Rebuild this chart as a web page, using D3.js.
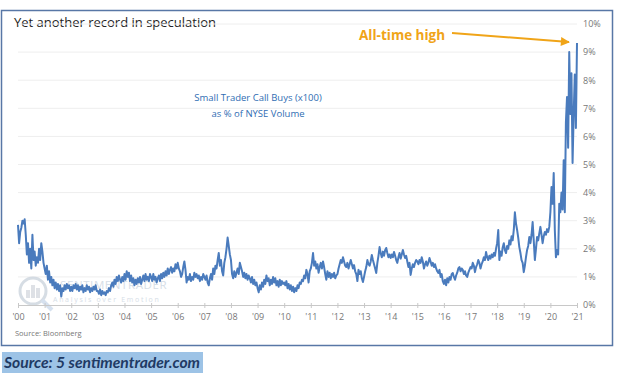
<!DOCTYPE html>
<html>
<head>
<meta charset="utf-8">
<script src="https://cdn.jsdelivr.net/npm/d3@7"></script>
<style>
  body { margin: 0; background: #fff; }
  svg { display: block; font-family: "Open Sans", sans-serif; }
</style>
</head>
<body>
<div id="chart"></div>
<script>
// --- Data (semi-monthly readings, % of NYSE volume) ---
const startYear = 2000;
const pointsPerYear = 24;
const callBuysPct = [
  // 2000
  2.85, 2.2, 2.6, 2.75, 3.0, 2.9, 3.05, 2.5, 1.8, 2.2, 1.5, 2.0, 1.3, 2.5, 1.6, 1.9, 1.4, 1.7, 1.5, 2.0, 1.6, 2.2, 1.9, 1.5,
  // 2001
  1.3, 1.1, 1.4, 0.9, 1.2, 0.8, 1.0, 0.7, 0.9, 0.6, 0.8, 0.55, 0.75, 0.5, 0.7, 0.3, 0.6, 0.5, 0.7, 0.55, 0.75, 0.6, 0.7, 0.5,
  // 2002
  0.65, 0.5, 0.7, 0.6, 0.75, 0.55, 0.7, 0.5, 0.65, 0.55, 0.7, 0.45, 0.6, 0.5, 0.7, 0.55, 0.65, 0.45, 0.6, 0.5, 0.65, 0.55, 0.7, 0.5,
  // 2003
  0.5, 0.4, 0.55, 0.35, 0.5, 0.4, 0.45, 0.35, 0.5, 0.45, 0.6, 0.5, 0.7, 0.8, 0.65, 0.9, 0.75, 1.0, 0.85, 1.05, 0.9, 0.8, 1.0, 0.85,
  // 2004
  1.1, 0.9, 1.2, 1.0, 1.15, 0.85, 1.05, 0.8, 0.95, 0.7, 0.9, 0.75, 0.95, 0.8, 1.0, 0.75, 0.9, 1.05, 0.85, 1.1, 0.9, 1.0, 0.85, 1.1,
  // 2005
  1.0, 0.85, 1.1, 0.9, 1.0, 0.8, 0.95, 1.05, 0.85, 1.1, 0.95, 1.15, 1.0, 1.2, 1.05, 1.3, 1.1, 1.25, 1.35, 1.15, 1.3, 1.2, 1.45, 1.3,
  // 2006
  1.5, 1.3, 1.2, 1.0, 1.1, 1.35, 1.55, 1.25, 0.8, 1.0, 0.9, 1.1, 0.85, 1.0, 0.9, 1.15, 1.0, 1.1, 0.95, 1.05, 0.85, 1.0, 0.9, 1.1,
  // 2007
  1.0, 0.9, 1.05, 0.8, 0.7, 0.95, 1.1, 0.9, 1.3, 1.1, 1.4, 1.3, 1.6, 1.85, 1.4, 1.6, 1.2, 1.05, 1.5, 1.7, 2.0, 2.4, 2.1, 1.8,
  // 2008
  1.6, 1.1, 0.95, 1.2, 1.0, 1.15, 1.3, 1.1, 1.5, 1.35, 1.2, 1.0, 1.15, 0.95, 1.1, 0.9, 1.05, 0.95, 0.8, 1.0, 0.75, 0.9, 0.7, 0.8,
  // 2009
  0.6, 0.45, 0.7, 0.55, 0.8, 0.65, 0.9, 0.75, 1.05, 0.85, 0.95, 0.7, 0.9, 0.75, 1.0, 0.8, 0.95, 0.7, 0.85, 0.65, 0.9, 0.7, 0.85, 0.75,
  // 2010
  0.8, 0.7, 0.85, 0.6, 0.75, 0.55, 0.7, 0.5, 0.65, 0.45, 0.6, 0.5, 0.7, 0.6, 0.8, 0.75, 0.9, 0.85, 1.05, 0.95, 1.25, 1.1, 0.8, 1.2,
  // 2011
  1.3, 1.5, 1.85, 1.4, 1.55, 1.3, 1.45, 1.15, 1.35, 1.5, 1.3, 1.55, 1.35, 1.1, 0.9, 1.2, 1.0, 1.15, 0.95, 1.1, 1.0, 1.15, 0.95, 1.05,
  // 2012
  1.1, 1.3, 1.45, 1.6, 1.5, 1.7, 1.55, 1.4, 1.35, 1.5, 1.3, 1.45, 1.6, 1.45, 1.3, 1.42, 1.2, 1.1, 0.85, 1.25, 1.1, 1.2, 0.95, 0.82,
  // 2013
  1.0, 1.2, 1.35, 1.6, 1.45, 1.4, 1.55, 1.78, 1.6, 1.45, 1.3, 1.14, 1.5, 1.75, 2.06, 1.85, 1.7, 1.9, 1.75, 1.95, 2.03, 1.85, 1.7, 1.8,
  // 2014
  1.67, 1.8, 1.7, 1.89, 1.75, 1.6, 1.5, 1.7, 1.85, 1.65, 1.8, 1.96, 1.8, 1.67, 1.75, 1.55, 1.35, 1.5, 1.07, 1.3, 1.45, 1.35, 1.5, 1.6,
  // 2015
  1.55, 1.45, 1.6, 1.5, 1.7, 1.55, 1.3, 1.45, 1.55, 1.4, 1.5, 1.67, 1.55, 1.4, 1.5, 1.35, 1.45, 1.3, 1.2, 1.14, 1.25, 1.0, 1.1, 0.85,
  // 2016
  0.75, 0.9, 0.7, 0.95, 0.8, 1.0, 0.9, 1.1, 1.14, 1.0, 0.9, 1.05, 1.15, 1.3, 1.35, 1.2, 1.3, 1.25, 1.1, 1.2, 1.05, 1.0, 1.15, 1.25,
  // 2017
  1.35, 1.3, 1.5, 1.4, 1.17, 1.35, 1.45, 1.6, 1.5, 1.3, 1.45, 1.55, 1.7, 1.6, 1.89, 1.7, 1.6, 1.75, 1.65, 1.8, 1.7, 1.85, 1.75, 2.0,
  // 2018
  2.2, 2.67, 1.6, 1.9, 1.75, 2.05, 2.2, 1.95, 1.85, 2.1, 2.0, 2.3, 2.15, 2.45, 2.3, 2.67, 3.3, 2.9, 2.67, 2.4, 2.06, 1.85, 1.6, 1.5,
  // 2019
  1.17, 1.4, 1.7, 1.96, 2.1, 2.42, 2.2, 2.5, 2.95, 2.3, 1.6, 2.0, 2.42, 2.3, 2.55, 2.78, 2.5, 2.2, 2.45, 2.6, 2.5, 2.7, 2.6, 2.78,
  // 2020
  3.3, 4.2, 3.6, 4.7, 2.67, 1.7, 1.96, 1.8, 3.6, 3.3, 4.0, 3.4, 5.15, 3.3, 6.5, 7.4, 5.6, 9.0, 6.8, 8.25, 5.05, 6.8, 8.2, 6.3,
  // 2021
  9.32
];

const xTickYears = d3.range(2000, 2022);
const yTickPct = d3.range(0, 11);

const titleText = "Yet another record in speculation";
const seriesLabel = ["Small Trader Call Buys (x100)", "as % of NYSE Volume"];
const calloutText = "All-time high";
const chartSource = "Source: Bloomberg";
const footerSource = "Source: 5 sentimentrader.com";

// --- Layout ---
const WIDTH = 621, HEIGHT = 375;
const plot = { left: 18, right: 577, top: 24, bottom: 305 };
const LINE_COLOR = "#4a7bbd";
const ORANGE = "#f0a418";

const svg = d3.select("#chart").append("svg")
  .attr("width", WIDTH)
  .attr("height", HEIGHT);

const x = d3.scaleLinear().domain([2000, 2021]).range([plot.left, plot.right]);
const y = d3.scaleLinear().domain([0, 10]).range([plot.bottom, plot.top]);

// frame
svg.append("rect")
  .attr("x", 1.5).attr("y", 10.5)
  .attr("width", 611).attr("height", 335)
  .attr("fill", "#fff")
  .attr("stroke", "#5877a6")
  .attr("stroke-width", 1.5);

// title
svg.append("text")
  .attr("x", 14).attr("y", 27)
  .attr("font-size", 13)
  .attr("fill", "#222")
  .text(titleText);

// gridlines
svg.append("g")
  .selectAll("line")
  .data(yTickPct.filter(d => d > 0))
  .join("line")
  .attr("x1", plot.left).attr("x2", plot.right)
  .attr("y1", d => y(d)).attr("y2", d => y(d))
  .attr("stroke", "#eeeeee")
  .attr("stroke-width", 1);

// watermark
const wm = svg.append("g").attr("opacity", 0.75);
wm.append("circle").attr("cx", 33).attr("cy", 291).attr("r", 13)
  .attr("fill", "none").attr("stroke", "#c9d2dc").attr("stroke-width", 3);
wm.append("line").attr("x1", 42).attr("y1", 300).attr("x2", 52).attr("y2", 310)
  .attr("stroke", "#c9d8ea").attr("stroke-width", 4);
[[26, 8], [31, 13], [36, 10]].forEach(([bx, bh]) => {
  wm.append("rect").attr("x", bx).attr("y", 298 - bh).attr("width", 4).attr("height", bh)
    .attr("fill", "#d3d8de");
});
wm.append("text").attr("x", 60).attr("y", 289)
  .attr("font-size", 11.5).attr("fill", "#c9d3de").attr("letter-spacing", 0.6)
  .text("SENTIMENTRADER");
wm.append("text").attr("x", 53).attr("y", 302)
  .attr("font-size", 7).attr("fill", "#c9d3de").attr("letter-spacing", 1.7)
  .text("Analysis over Emotion");

// x axis
const xAxis = d3.axisBottom(x)
  .tickValues(xTickYears)
  .tickFormat(d => "'" + String(d).slice(2))
  .tickSizeInner(3)
  .tickSizeOuter(0)
  .tickPadding(6);

const gx = svg.append("g")
  .attr("transform", `translate(0,${plot.bottom})`)
  .call(xAxis);
gx.select(".domain").attr("stroke", "#c8c8c8");
gx.selectAll(".tick line").attr("stroke", "#c8c8c8").attr("y1", -2);
gx.selectAll(".tick text")
  .attr("fill", "#777")
  .attr("font-size", 9)
  .attr("font-family", "'Open Sans', sans-serif");

// y axis on the right
const yAxis = d3.axisRight(y)
  .tickValues(yTickPct)
  .tickFormat(d => d + "%")
  .tickSize(0)
  .tickPadding(6);

const gy = svg.append("g")
  .attr("transform", `translate(${plot.right},0)`)
  .call(yAxis);
gy.select(".domain").remove();
gy.selectAll(".tick text")
  .attr("fill", "#777")
  .attr("font-size", 9)
  .attr("font-family", "'Open Sans', sans-serif");

// series
const line = d3.line()
  .x((d, i) => x(startYear + i / pointsPerYear))
  .y(d => y(d));

svg.append("path")
  .datum(callBuysPct)
  .attr("fill", "none")
  .attr("stroke", LINE_COLOR)
  .attr("stroke-width", 2)
  .attr("stroke-linejoin", "round")
  .attr("d", line);

// series label
svg.append("g")
  .selectAll("text")
  .data(seriesLabel)
  .join("text")
  .attr("x", 258)
  .attr("y", (d, i) => 101 + i * 16)
  .attr("text-anchor", "middle")
  .attr("font-size", 9.5)
  .attr("fill", "#2f6db3")
  .text(d => d);

// callout
svg.append("defs").append("marker")
  .attr("id", "arrow")
  .attr("viewBox", "0 0 10 10")
  .attr("refX", 9).attr("refY", 5)
  .attr("markerWidth", 5).attr("markerHeight", 4.5)
  .attr("orient", "auto")
  .append("path")
  .attr("d", "M0,0 L10,5 L0,10 Z")
  .attr("fill", ORANGE);

svg.append("text")
  .attr("x", 359).attr("y", 40)
  .attr("font-size", 13.5)
  .attr("font-weight", "bold")
  .attr("fill", ORANGE)
  .text(calloutText);

const lastIndex = callBuysPct.length - 1;
svg.append("line")
  .attr("x1", 452).attr("y1", 33)
  .attr("x2", x(startYear + lastIndex / pointsPerYear) - 8)
  .attr("y2", y(callBuysPct[lastIndex]) - 1)
  .attr("stroke", ORANGE)
  .attr("stroke-width", 2)
  .attr("marker-end", "url(#arrow)");

// chart source
svg.append("text")
  .attr("x", 15).attr("y", 336)
  .attr("font-size", 7.5)
  .attr("fill", "#777")
  .text(chartSource);

// footer source
svg.append("rect")
  .attr("x", 2).attr("y", 352)
  .attr("width", 201).attr("height", 21)
  .attr("fill", "#9dc3e6");

svg.append("text")
  .attr("x", 4).attr("y", 368)
  .attr("font-family", "Lato, sans-serif")
  .attr("font-size", 16)
  .attr("font-weight", "bold")
  .attr("font-style", "italic")
  .attr("fill", "#1f3a64")
  .attr("textLength", 196)
  .attr("lengthAdjust", "spacingAndGlyphs")
  .text(footerSource);
</script>
</body>
</html>
